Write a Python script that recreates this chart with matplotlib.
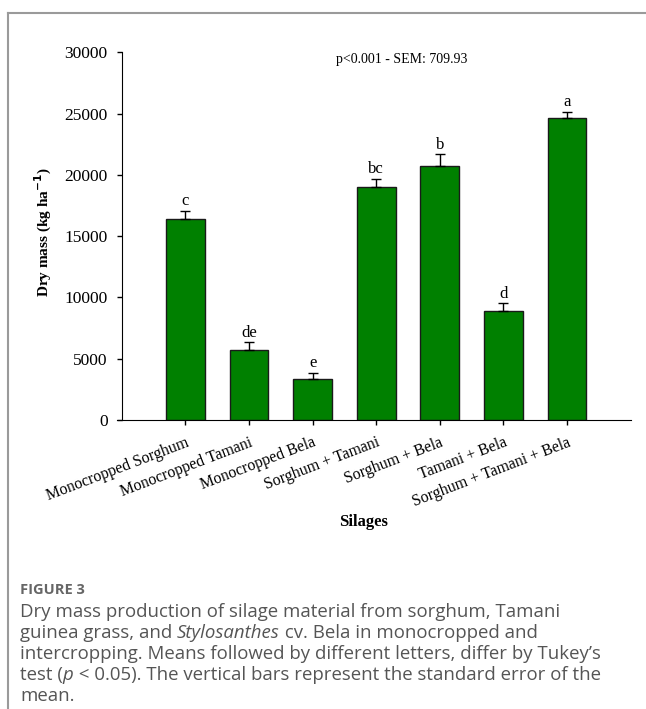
import numpy as np
import matplotlib.pyplot as plt
from matplotlib.lines import Line2D

# data
silages = ['Monocropped Sorghum', 'Monocropped Tamani', 'Monocropped Bela',
           'Sorghum + Tamani', 'Sorghum + Bela', 'Tamani + Bela',
           'Sorghum + Tamani + Bela']
dry_mass = [16400, 5680, 3370, 18990, 20730, 8880, 24640]
sem = [660, 650, 490, 710, 980, 630, 540]
letters = ['c', 'de', 'e', 'bc', 'b', 'd', 'a']
yticks = [0, 5000, 10000, 15000, 20000, 25000, 30000]

serif = 'Liberation Serif'

fig = plt.figure(figsize=(6.46, 7.09), dpi=100)
ax = fig.add_axes([0.1807, 0.4076, 0.796, 0.5184])

x = np.arange(len(silages))
ax.bar(x, dry_mass, width=0.61, color='#008000', edgecolor='#1a1a1a',
       linewidth=1.0, zorder=2)
ax.errorbar(x, dry_mass, yerr=[np.zeros(len(sem)), sem], fmt='none',
            ecolor='black', elinewidth=1.0, capsize=3.5, capthick=1.0, zorder=3)

for xi, v, e, lab in zip(x, dry_mass, sem, letters):
    ax.text(xi, v + e + 450, lab, ha='center', va='baseline',
            fontsize=12, family=serif)

ax.set_xlim(-1.08, 7.006)
ax.set_ylim(0, 30000)
ax.spines['left'].set_position(('data', -1.005))
ax.set_yticks(yticks)
ax.set_yticklabels([str(t) for t in yticks], family=serif, fontsize=12.5)
ax.set_xticks(x)
ax.set_xticklabels(silages, rotation=21, ha='right', rotation_mode='anchor',
                   family=serif, fontsize=11.4)
ax.tick_params(axis='both', direction='out', length=3.5, width=1)
ax.tick_params(axis='y', pad=6.5)
ax.tick_params(axis='x', pad=7)
ax.spines['top'].set_visible(False)
ax.spines['right'].set_visible(False)

ax.set_ylabel('Dry mass (kg ha$^{\\mathbf{-1}}$)', family=serif,
              fontsize=11, fontweight='bold')
ax.yaxis.set_label_coords(-0.122, 0.51)
ax.set_xlabel('Silages', family=serif, fontsize=12, fontweight='bold')
ax.xaxis.set_label_coords(0.48, -0.256)

ax.text(0.554, 0.98, 'p<0.001 - SEM: 709.93', transform=ax.transAxes,
        ha='center', va='center', family=serif, fontsize=10)

# outer frame (left and top edges)
fig.add_artist(Line2D([8 / 646, 8 / 646], [0, 1 - 13 / 709],
                      transform=fig.transFigure, color='#9a9a9a', lw=1.5))
fig.add_artist(Line2D([8 / 646, 1], [1 - 13 / 709, 1 - 13 / 709],
                      transform=fig.transFigure, color='#9a9a9a', lw=1.5))

# caption
cap_color = '#555555'
fig.text(20 / 646, 1 - 590 / 709, 'FIGURE 3', family='Open Sans',
         fontsize=10.5, fontweight='bold', color='#666666', va='center')

lines = [
    [('Dry mass production of silage material from sorghum, Tamani', 'normal')],
    [('guinea grass, and ', 'normal'), ('Stylosanthes', 'italic'),
     (' cv. Bela in monocropped and', 'normal')],
    [('intercropping. Means followed by different letters, differ by Tukey\u2019s', 'normal')],
    [('test (', 'normal'), ('p', 'italic'),
     (' < 0.05). The vertical bars represent the standard error of the', 'normal')],
    [('mean.', 'normal')],
]
renderer = fig.canvas.get_renderer()
y0 = 612
for i, segs in enumerate(lines):
    xpos = 20 / 646
    ypos = 1 - (y0 + i * 21) / 709
    for txt, style in segs:
        t = fig.text(xpos, ypos, txt, family='Open Sans', fontsize=13.4,
                     style=style, color=cap_color, va='center')
        bb = t.get_window_extent(renderer=renderer)
        xpos += bb.width / fig.bbox.width

fig.savefig('out.png', dpi=100)
